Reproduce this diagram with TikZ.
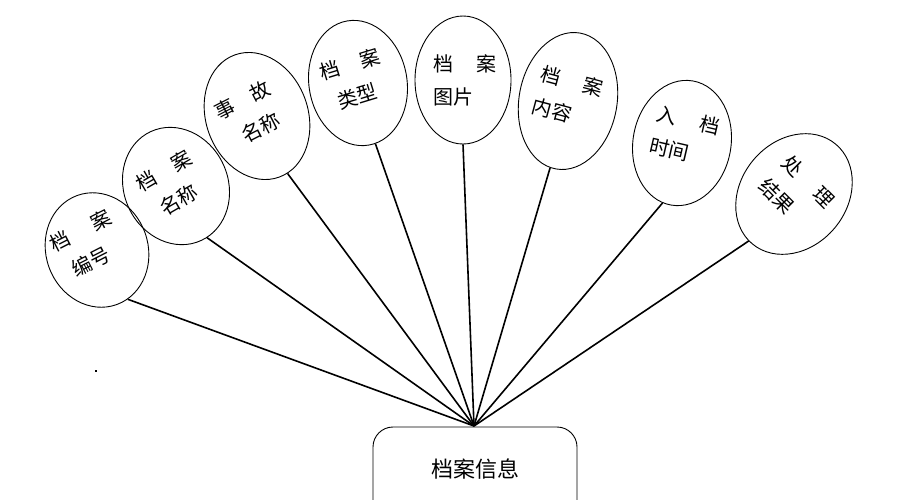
\documentclass[tikz,border=0pt]{standalone}
\usepackage{fontspec}
\setmainfont{Noto Sans CJK SC}
\usetikzlibrary{shapes.geometric}
\begin{document}
\begin{tikzpicture}[x=1pt,y=-1pt,
  attr/.style={draw=black, line width=0.9pt, ellipse, inner sep=0pt},
  lbl/.style={align=left, font=\fontsize{20pt}{33pt}\selectfont, inner sep=0pt},
  link/.style={draw=black, line width=1.6pt},
  ent/.style={draw=black, line width=0.9pt, rounded corners=20pt}]
\useasboundingbox (0,0) rectangle (909,499);
\clip (0,0) rectangle (909,499);
% ellipses
\node[attr, minimum width=102pt, minimum height=116pt, rotate=20] (e1) at (97,250) {};
\node[attr, minimum width=104pt, minimum height=120pt, rotate=25] (e2) at (176,186) {};
\node[attr, minimum width=102pt, minimum height=130pt, rotate=20] (e3) at (257,116) {};
\node[attr, minimum width=98pt, minimum height=126pt, rotate=10] (e4) at (358,83) {};
\node[attr, minimum width=96pt, minimum height=128pt] (e5) at (463,80) {};
\node[attr, minimum width=98pt, minimum height=138pt, rotate=-10] (e6) at (568,101) {};
\node[attr, minimum width=98pt, minimum height=126pt, rotate=-10] (e7) at (682,143) {};
\node[attr, minimum width=106pt, minimum height=130pt, rotate=-40] (e8) at (794,194) {};
% labels
\node[lbl, rotate=27] (t1) at (88,245) {档\hspace{1.3em}案\\\hspace{0.4em}编号};
\node[lbl, rotate=30] (t2) at (172,185) {档\hspace{1.0em}案\\\hspace{0.4em}名称};
\node[lbl, rotate=27] (t3) at (250,115) {事\hspace{1.0em}故\\\hspace{0.7em}名称};
\node[lbl, rotate=17] (t4) at (355,80) {档\hspace{1.1em}案\\\hspace{0.4em}类型};
\node[lbl] (t5) at (465,80) {档\hspace{1.2em}案\\图片};
\node[lbl, rotate=-15] (t6) at (568,97) {档\hspace{1.2em}案\\内容};
\node[lbl, rotate=-13] (t7) at (685,136) {入\hspace{1.2em}档\\时间};
\node[lbl, rotate=-45] (t8) at (797,193) {处\hspace{1.2em}理\\结果};
% entity
\draw[ent] (373,520) -- (373,427) -- (577,427) -- (577,520);
\node[font=\fontsize{22pt}{24pt}\selectfont, inner sep=0pt] (ent) at (475,469) {档案信息};
\coordinate (hub) at (474,426);
% connectors
\draw[link] (hub) -- (e1.-78);
\draw[link] (hub) -- (e2.-84);
\draw[link] (hub) -- (e3.-82);
\draw[link] (hub) -- (e4.-84);
\draw[link] (hub) -- (e5.-90);
\draw[link] (hub) -- (e6.-95);
\draw[link] (hub) -- (e7.-98);
\draw[link] (hub) -- (e8.-94);
% stray dot
\fill (95,370) rectangle (97,372);
\end{tikzpicture}
\end{document}
